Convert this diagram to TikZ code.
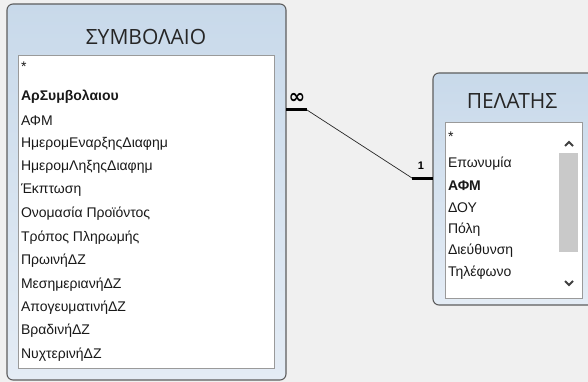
\documentclass[tikz,border=0pt]{standalone}
\usepackage{fontspec}
\setmainfont{Liberation Sans}
\newfontfamily\titlefont{Open Sans}
\newfontfamily\symbfont{DejaVu Sans}
\usetikzlibrary{positioning}
\definecolor{Fondo}{HTML}{F0F0F0}
\definecolor{Marco}{HTML}{5E5E5E}
\definecolor{AzulArriba}{HTML}{C8D9EA}
\definecolor{AzulAbajo}{HTML}{E4ECF5}
\definecolor{Lista}{HTML}{9A9A9A}
\definecolor{Barra}{HTML}{C9C9C9}

\begin{document}
\begin{tikzpicture}[
  x=1pt, y=-1pt,
  every node/.style={inner sep=0pt, outer sep=0pt},
  tablebox/.style={draw=Marco, line width=1.1pt, rounded corners=6pt,
    top color=AzulArriba, bottom color=AzulAbajo, anchor=north west},
  listbox/.style={draw=Lista, line width=0.8pt, fill=white, anchor=north west},
  title/.style={font=\titlefont\fontsize{21}{21}\selectfont, text=black!85},
  field/.style={font=\fontsize{14}{15}\selectfont, anchor=west, text=black!90},
  keyfield/.style={field, font=\fontsize{14}{15}\selectfont\bfseries},
  card/.style={font=\fontsize{11}{11}\selectfont\bfseries},
  thin link/.style={draw=black!85, line width=0.7pt},
  thick link/.style={draw=black, line width=3pt}
]
  \clip (0,0) rectangle (588,382);
  \fill[Fondo] (0,0) rectangle (588,382);

  % contract table
  \node[tablebox, minimum width=279pt, minimum height=376pt] (symv) at (7,4) {};
  \node[title] (symvtitle) at (146,37) {ΣΥΜΒΟΛΑΙΟ};
  \node[listbox, minimum width=256pt, minimum height=313pt] (symvlist) at (18,55) {};
  \node[field] (sstar) at (21,67) {*};
  \node[keyfield] (skey) at (21,97) {ΑρΣυμβολαιου};
  \foreach \lbl [count=\i] in {ΑΦΜ, ΗμερομΕναρξηςΔιαφημ, ΗμερομΛηξηςΔιαφημ,
      Έκπτωση, Ονομασία Προϊόντος, Τρόπος Πληρωμής, ΠρωινήΔΖ,
      ΜεσημεριανήΔΖ, ΑπογευματινήΔΖ, ΒραδινήΔΖ, ΝυχτερινήΔΖ}
    \node[field] (sf\i) at (21,{97+\i*23.4}) {\lbl};

  % customer table
  \node[tablebox, minimum width=170pt, minimum height=232pt] (pel) at (433,73) {};
  \node[title] (peltitle) at (512,101) {ΠΕΛΑΤΗΣ};
  \node[listbox, minimum width=137pt, minimum height=176pt] (pellist) at (445,122) {};
  \fill[Barra] (559,153) rectangle (578,252);
  \draw[black!75, line width=1.8pt] (565,146) -- (569,142) -- (573,146);
  \draw[black!75, line width=1.8pt] (565,281) -- (569,285) -- (573,281);
  \node[field] (pstar) at (448,137) {*};
  \foreach \lbl/\sty [count=\i] in {Επωνυμία/field, ΑΦΜ/keyfield, ΔΟΥ/field,
      Πόλη/field, Διεύθυνση/field, Τηλέφωνο/field}
    \node[\sty] (pf\i) at (448,{142+\i*21.8}) {\lbl};

  % relationship
  \coordinate (manyend) at (symv.east |- 0,110);
  \coordinate (manybend) at (307,110);
  \coordinate (onebend) at (412,178);
  \coordinate (oneend) at (pel.west |- 0,178);
  \draw[thick link] (manyend) -- (manybend);
  \draw[thin link] (manybend) -- (onebend);
  \draw[thick link] (onebend) -- (oneend);
  \node[card, font=\symbfont\fontsize{20}{20}\selectfont\bfseries] (many) at (297,98) {∞};
  \node[card] (one) at (421,166) {1};
\end{tikzpicture}
\end{document}
